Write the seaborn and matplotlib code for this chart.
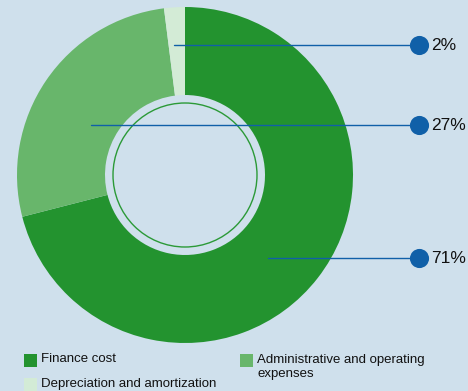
import numpy as np
import matplotlib
matplotlib.use("Agg")
import matplotlib.pyplot as plt
from matplotlib.patches import Circle, Rectangle
import seaborn as sns

# Cost breakdown (share of total, %)
categories = ["Finance cost", "Administrative and operating\nexpenses", "Depreciation and amortization"]
shares = [71, 27, 2]
share_labels = ["71%", "27%", "2%"]
slice_colors = ["#23932f", "#68b66b", "#d3ebd6"]

# Where each leader line starts inside its slice (radius from centre, angle offset in degrees)
leader_radius = [117, 107, 130]
leader_angle_shift = [-7.2, 6.2, 1.2]

BG = "#cfe0ec"
BLUE = "#1060a8"

sns.set_style("white")
plt.rcParams["font.family"] = ["Liberation Sans", "DejaVu Sans"]

W, H = 468, 391
fig = plt.figure(figsize=(W / 100, H / 100), dpi=100, facecolor=BG)
ax = fig.add_axes([0, 0, 1, 1])
ax.set_facecolor(BG)

cx, cy = 185, H - 175
R_out, R_in = 168, 80

wedges, _ = ax.pie(
    shares, colors=slice_colors, startangle=90, counterclock=False,
    center=(cx, cy), radius=R_out, frame=True,
    wedgeprops=dict(width=R_out - R_in, linewidth=0),
)
ax.add_patch(Circle((cx, cy), 72, fill=False, edgecolor="#2b9a37", linewidth=1.0, zorder=3))

ax.set_xlim(0, W)
ax.set_ylim(0, H)
ax.set_aspect("equal")
ax.axis("off")

# Leader lines from each slice to a marker column on the right
dot_x = 419
rows = []
for w, r, shift, lab in zip(wedges, leader_radius, leader_angle_shift, share_labels):
    mid = np.deg2rad((w.theta1 + w.theta2) / 2 + shift)
    sx, sy = cx + r * np.cos(mid), cy + r * np.sin(mid)
    ax.plot([sx, dot_x], [sy, sy], color=BLUE, linewidth=1.0, zorder=4)
    rows.append((dot_x, sy, lab))

sns.scatterplot(x=[p[0] for p in rows], y=[p[1] for p in rows], ax=ax,
                s=190, color=BLUE, edgecolor=BLUE, linewidth=0, zorder=5, legend=False)
for x, y, lab in rows:
    ax.text(x + 12, y - 0.5, lab, fontsize=12.5, va="center", ha="left", color="#111111", zorder=6)

# Legend drawn as coloured squares with captions
legend_items = [
    (24, 360, slice_colors[0], categories[0]),
    (24, 384, slice_colors[2], categories[2]),
    (240, 360, slice_colors[1], categories[1]),
]
for x, ytop, col, text in legend_items:
    y = H - ytop
    fig.patches.append(Rectangle((x / W, (y - 6.5) / H), 13 / W, 13 / H,
                                 transform=fig.transFigure, facecolor=col, edgecolor="none"))
    fig.text((x + 17) / W, (y + 6.5) / H, text, fontsize=9.5, va="top", ha="left",
             color="#111111", linespacing=1.25)

fig.savefig("out.png", dpi=100, facecolor=BG)
